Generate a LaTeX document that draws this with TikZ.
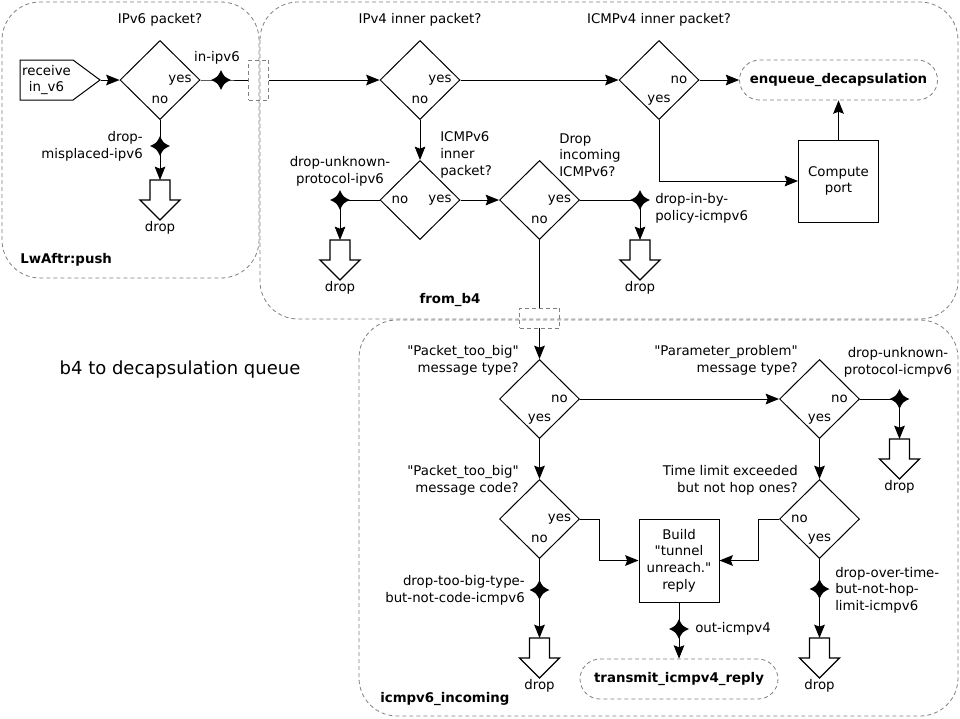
\documentclass[tikz,border=0pt]{standalone}
\usepackage{fontspec}
\setmainfont{DejaVu Sans}[Ligatures=TeXOff]
\usetikzlibrary{shapes.geometric,shapes.symbols,arrows.meta}
\tikzset{
  junc/.pic={\fill[black] (0,-10) .. controls (3.2,-3.2) .. (10,0) .. controls (3.2,3.2) .. (0,10) .. controls (-3.2,3.2) .. (-10,0) .. controls (-3.2,-3.2) .. (0,-10) -- cycle;},
  dropsh/.pic={\draw[fill=white, line width=1pt, line join=miter] (-10,0) -- (10,0) -- (10,20) -- (20,20) -- (0,40) -- (-20,20) -- (-10,20) -- cycle; \coordinate (-top) at (0,0);}
}
\begin{document}
\begin{tikzpicture}[x=0.75pt,y=-0.75pt,
  every node/.style={font=\fontsize{10}{12.5}\selectfont, inner sep=0pt},
  dia/.style={draw, diamond, minimum width=60pt, minimum height=59.25pt, inner sep=0pt, line width=0.75pt},
  box/.style={draw, rectangle, minimum width=60pt, line width=0.75pt, align=center},
  port/.style={draw=black!50, dash pattern=on 3pt off 2.25pt, line width=0.6pt},
  term/.style={draw=black!50, dash pattern=on 3pt off 2.25pt, line width=0.6pt, rounded corners=15pt, minimum width=148.5pt, minimum height=30pt, font=\fontsize{10}{12.5}\selectfont\bfseries},
  cluster/.style={draw=black!50, dash pattern=on 3pt off 2.25pt, line width=0.6pt, rounded corners=28.5pt},
  recvsh/.style={draw, signal, signal to=east, signal from=nowhere, signal pointer angle=73, minimum height=30pt, text width=39.75pt, align=center, inner sep=0pt, line width=0.75pt},
  edge/.style={draw, line width=0.75pt},
  arr/.style={edge, -{Stealth[length=10pt,width=8pt,inset=1.5pt]}},
  clbl/.style={font=\fontsize{10}{12.5}\selectfont\bfseries}
]
\useasboundingbox (0,0) rectangle (960,718);

% clusters
\draw[cluster] (2,2) rectangle (259,278);
\draw[cluster] (260,2) rectangle (958,319);
\draw[cluster] (359,320) rectangle (958,716);

% title
\node[font=\fontsize{13.5}{16}\selectfont] (title) at (180,370) {b4 to decapsulation queue};

% cluster labels
\node[clbl, anchor=west] (cl1) at (20,260) {LwAftr:push};
\node[clbl] (cl2) at (450,300) {from\_b4};
\node[clbl, anchor=west] (cl3) at (380,699) {icmpv6\_incoming};

% main nodes
\node[recvsh] (recv) at (46.5,80) {receive\\in\_v6};
\node[dia] (dv6) at (160,80) {};
\node[dia] (dv4) at (420,80) {};
\node[dia] (dc4) at (659,80) {};
\node[dia] (dc6) at (420,200) {};
\node[dia] (ddrop) at (539.5,200) {};
\node[dia] (dtype) at (539.5,399) {};
\node[dia] (dparam) at (819.5,399) {};
\node[dia] (dcode) at (539.5,519) {};
\node[dia] (dtime) at (819.5,519) {};

\node[box, minimum height=61.5pt] (comp) at (838.5,181) {Compute\\port};
\node[box, minimum height=62.25pt] (build) at (679,560.5) {Build\\"tunnel\\unreach."\\reply};
\node[term] (enq) at (838.5,80) {enqueue\_decapsulation};
\node[term] (trans) at (679,679) {transmit\_icmpv4\_reply};
\node[port, minimum width=15pt, minimum height=30pt] (portA) at (258.5,80) {};
\node[port, minimum width=30pt, minimum height=15pt] (portB) at (539.5,318) {};

% diamond texts
\node (q1) at (160,20) {IPv6 packet?};
\node (y1) at ([xshift=15pt]dv6.center) {yes};
\node (n1) at ([yshift=-15pt]dv6.center) {no};
\node (q2) at (420,20) {IPv4 inner packet?};
\node (y2) at ([xshift=15pt]dv4.center) {yes};
\node (n2) at ([yshift=-15pt]dv4.center) {no};
\node (q3) at (659,20) {ICMPv4 inner packet?};
\node (n3) at ([xshift=15pt]dc4.center) {no};
\node (y3) at ([yshift=-15pt]dc4.center) {yes};
\node[anchor=west, align=left] (q4) at (440,155) {ICMPv6\\inner\\packet?};
\node (n4) at ([xshift=-15pt]dc6.center) {no};
\node (y4) at ([xshift=15pt]dc6.center) {yes};
\node[anchor=west, align=left] (q5) at (559,155) {Drop\\incoming\\ICMPv6?};
\node (y5) at ([xshift=15pt]ddrop.center) {yes};
\node (n5) at ([yshift=-15pt]ddrop.center) {no};
\node[anchor=east, align=right] (q6) at (519,360) {"Packet\_too\_big"\\message type?};
\node (n6) at ([xshift=15pt]dtype.center) {no};
\node (y6) at ([yshift=-15pt]dtype.center) {yes};
\node[anchor=east, align=right] (q7) at (798,360) {"Parameter\_problem"\\message type?};
\node (n7) at ([xshift=15pt]dparam.center) {no};
\node (y7) at ([yshift=-15pt]dparam.center) {yes};
\node[anchor=east, align=right] (q8) at (519,480) {"Packet\_too\_big"\\message code?};
\node (y8) at ([xshift=15pt]dcode.center) {yes};
\node (n8) at ([yshift=-15pt]dcode.center) {no};
\node[anchor=east, align=right] (q9) at (798,480) {Time limit exceeded\\but not hop ones?};
\node (n9) at ([xshift=-15pt]dtime.center) {no};
\node (y9) at ([yshift=-15pt]dtime.center) {yes};

% junction points
\coordinate (jA) at (221,80);
\coordinate (jB) at (160,146);
\coordinate (jC) at (340,200);
\coordinate (jD) at (640,200);
\coordinate (jE) at (899.5,399);
\coordinate (jF) at (539.5,590);
\coordinate (jG) at (819.5,589);
\coordinate (jH) at (679,629);

% junction labels
\node (lA) at (217,58) {in-ipv6};
\node[anchor=east, align=right] (lB) at (143,146) {drop-\\misplaced-ipv6};
\node[align=center] (lC) at (340,171) {drop-unknown-\\protocol-ipv6};
\node[anchor=west, align=left] (lD) at (655,208) {drop-in-by-\\policy-icmpv6};
\node[align=center] (lE) at (898,362) {drop-unknown-\\protocol-icmpv6};
\node[anchor=east, align=right] (lF) at (525,590) {drop-too-big-type-\\but-not-code-icmpv6};
\node[anchor=west, align=left] (lG) at (835,590) {drop-over-time-\\but-not-hop-\\limit-icmpv6};
\node[anchor=west] (lH) at (695,629) {out-icmpv4};

% drop shapes
\pic (dropB) at (160,180) {dropsh};
\pic (dropC) at (340,240) {dropsh};
\pic (dropD) at (640,240) {dropsh};
\pic (dropE) at (899.5,439) {dropsh};
\pic (dropF) at (539.5,638) {dropsh};
\pic (dropG) at (819.5,638) {dropsh};
\node (tB) at (160,228) {drop};
\node (tC) at (340,288) {drop};
\node (tD) at (640,288) {drop};
\node (tE) at (899.5,487) {drop};
\node (tF) at (539.5,686) {drop};
\node (tG) at (819.5,686) {drop};

% edges
\draw[arr] (recv) -- (dv6);
\draw[edge] (dv6.east) -- (jA) -- (portA);
\draw[arr] (portA) -- (dv4);
\draw[edge] (dv6.south) -- (jB);
\draw[arr] (jB) -- (dropB-top);
\draw[arr] (dv4.east) -- (dc4.west);
\draw[arr] (dc4.east) -- (enq);
\draw[arr] (dc4.south) |- (comp.west);
\draw[arr] (comp.north) -- (enq.south);
\draw[arr] (dv4.south) -- (dc6.north);
\draw[edge] (dc6.west) -- (jC);
\draw[arr] (jC) -- (dropC-top);
\draw[arr] (dc6.east) -- (ddrop.west);
\draw[edge] (ddrop.east) -- (jD);
\draw[arr] (jD) -- (dropD-top);
\draw[edge] (ddrop.south) -- (portB);
\draw[arr] (portB) -- (dtype.north);
\draw[arr] (dtype.east) -- (dparam.west);
\draw[edge] (dparam.east) -- (jE);
\draw[arr] (jE) -- (dropE-top);
\draw[arr] (dparam.south) -- (dtime.north);
\draw[arr] (dtype.south) -- (dcode.north);
\draw[arr] (dcode.east) -- ++(19,0) |- (build.west);
\draw[arr] (dtime.west) -- ++(-21,0) |- (build.east);
\draw[edge] (dcode.south) -- (jF);
\draw[arr] (jF) -- (dropF-top);
\draw[edge] (dtime.south) -- (jG);
\draw[arr] (jG) -- (dropG-top);
\draw[edge] (build.south) -- (jH);
\draw[arr] (jH) -- (trans.north);

% junction markers
\foreach \j in {jA,jB,jC,jD,jE,jF,jG,jH} { \pic at (\j) {junc}; }
\end{tikzpicture}
\end{document}
